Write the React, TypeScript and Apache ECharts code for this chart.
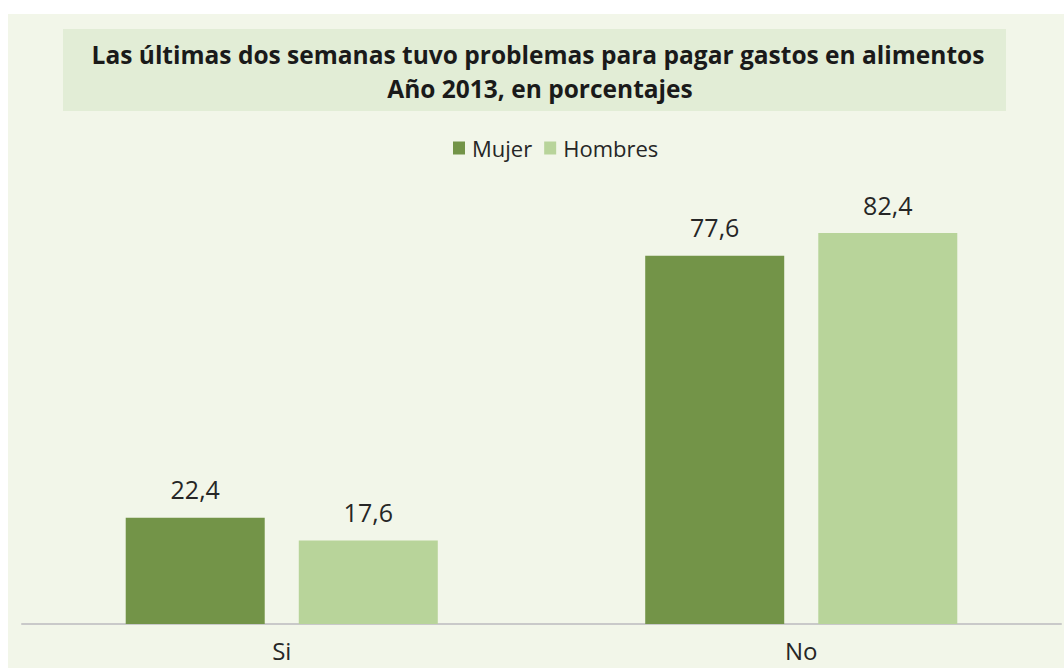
import React, { useEffect, useRef } from "react";
import * as echarts from "echarts";

const categories = ["Si", "No"];
const mujer = [22.4, 77.6];
const hombres = [17.6, 82.4];
const seriesNames = ["Mujer", "Hombres"];
const titleLines = [
  "Las últimas dos semanas tuvo problemas para pagar gastos en alimentos",
  "Año 2013, en porcentajes",
];

const fmt = (v: number) => v.toFixed(1).replace(".", ",");

export default function App() {
  const ref = useRef<HTMLDivElement>(null);
  useEffect(() => {
    if (!ref.current) return;
    const chart = echarts.init(ref.current, undefined, { renderer: "svg" });
    const labelStyle = {
      show: true,
      position: "top" as const,
      distance: 16,
      fontFamily: "Open Sans",
      fontSize: 25,
      color: "#262626",
      formatter: (p: any) => fmt(p.value),
    };
    const titleStyle = {
      textAlign: "center",
      textVerticalAlign: "middle",
      fontFamily: "Open Sans",
      fontWeight: "bold",
      fontSize: 24.5,
      fill: "#1a1a1a",
    };
    chart.setOption({
      animation: false,
      backgroundColor: "#ffffff",
      graphic: [
        { type: "rect", z: -10, shape: { x: 8, y: 14, width: 1056, height: 654 }, style: { fill: "#F2F6E9" } },
        { type: "rect", z: -9, shape: { x: 63, y: 29, width: 943, height: 82 }, style: { fill: "#E2EDD6" } },
        { type: "text", x: 538, y: 54, style: { ...titleStyle, text: titleLines[0] } },
        { type: "text", x: 540, y: 88, style: { ...titleStyle, text: titleLines[1] } },
      ],
      legend: {
        data: seriesNames,
        left: 453,
        top: 137,
        padding: 0,
        itemWidth: 12,
        itemHeight: 13,
        itemGap: 12,
        icon: "rect",
        textStyle: { fontFamily: "Open Sans", fontSize: 22, color: "#262626", padding: [0, 0, 0, 2] },
      },
      grid: { left: 22, right: 3, top: 197, bottom: 44, containLabel: false },
      xAxis: {
        type: "category",
        data: categories,
        axisLine: { lineStyle: { color: "#C9C9C9", width: 2 } },
        axisTick: { show: false },
        axisLabel: { fontFamily: "Open Sans", fontSize: 24, color: "#262626", margin: 14 },
      },
      yAxis: {
        type: "value",
        min: 0,
        max: 90,
        show: false,
        splitLine: { show: false },
      },
      series: [
        {
          name: seriesNames[0],
          type: "bar",
          data: mujer,
          barWidth: 139,
          barGap: "24.5%",
          itemStyle: { color: "#739448" },
          label: labelStyle,
        },
        {
          name: seriesNames[1],
          type: "bar",
          data: hombres,
          barWidth: 139,
          itemStyle: { color: "#B8D49A" },
          label: labelStyle,
        },
      ],
    });
    return () => chart.dispose();
  }, []);
  return (
    <div
      ref={ref}
      style={{ position: "fixed", left: 0, top: 0, width: 1064, height: 668 }}
    />
  );
}
